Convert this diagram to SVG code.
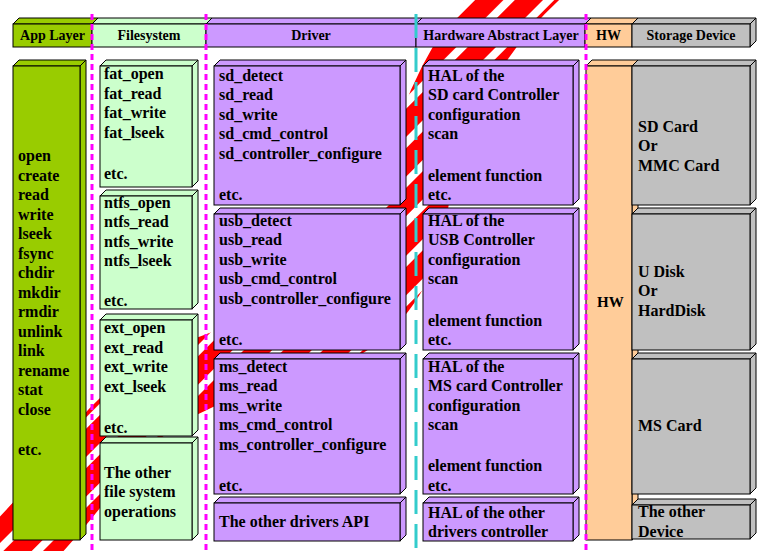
<svg xmlns="http://www.w3.org/2000/svg" width="770" height="551" viewBox="0 0 770 551">
<defs>
<pattern id="stripes" width="28" height="28" patternUnits="userSpaceOnUse" patternTransform="rotate(45)">
<rect width="28" height="28" fill="#ffffff"/>
<rect width="20" height="28" fill="#ff0000"/>
</pattern>
</defs>
<style>
.f{stroke:#000;stroke-width:1}
.ag{fill:#99cc00}.fs{fill:#ccffcc}.pu{fill:#cc99ff}.hw{fill:#ffcc99}.gr{fill:#c0c0c0}
text{font-family:"Liberation Serif","Times New Roman",serif;font-weight:bold;fill:#000}
.t{font-size:16px}
.h{font-size:14px;text-anchor:middle}
.mg{stroke:#ff00ff;stroke-width:3;stroke-dasharray:6 4;fill:none}
.cy{stroke:#33cccc;stroke-width:3;stroke-dasharray:24 10;fill:none}
</style>
<rect width="770" height="551" fill="#ffffff"/>
<g id="background-stripes">
<path d="M 540 -30 Q 440 60 414 200 Q 400 330 260 355 Q 150 380 92 460 Q 50 520 -10 575" fill="none" stroke="url(#stripes)" stroke-width="70"/>
</g>
<g id="headers">
<g id="h-app"><polygon class="f ag" points="13,24 19,18 98,18 92,24"/><rect class="f ag" x="13" y="24" width="79" height="23"/><text class="h" x="52.5" y="40">App Layer</text></g>
<g id="h-fs"><polygon class="f fs" points="92,24 98,18 212,18 206,24"/><rect class="f fs" x="92" y="24" width="114" height="23"/><text class="h" x="149" y="40">Filesystem</text></g>
<g id="h-drv"><polygon class="f pu" points="206,24 212,18 422,18 416,24"/><rect class="f pu" x="206" y="24" width="210" height="23"/><text class="h" x="311" y="40">Driver</text></g>
<g id="h-hal"><polygon class="f pu" points="416,24 422,18 591,18 585,24"/><rect class="f pu" x="416" y="24" width="169" height="23"/><text class="h" x="501" y="40">Hardware Abstract Layer</text></g>
<g id="h-hw"><polygon class="f hw" points="585,24 591,18 638,18 632,24"/><rect class="f hw" x="585" y="24" width="47" height="23"/><text class="h" x="608.5" y="40">HW</text></g>
<g id="h-sd"><polygon class="f gr" points="632,24 638,18 756,18 750,24"/><polygon class="f gr" points="750,24 756,18 756,41 750,47"/><rect class="f gr" x="632" y="24" width="118" height="23"/><text class="h" x="691" y="40">Storage Device</text></g>
</g>
<g id="app">
<polygon class="f ag" points="13,66 19,60 86,60 80,66"/><polygon class="f ag" points="80,66 86,60 86,534 80,540"/><rect class="f ag" x="13" y="66" width="67" height="474"/>
<text class="t"><tspan x="18" y="161">open</tspan><tspan x="18" y="180.5">create</tspan><tspan x="18" y="200">read</tspan><tspan x="18" y="219.5">write</tspan><tspan x="18" y="239">lseek</tspan><tspan x="18" y="258.5">fsync</tspan><tspan x="18" y="278">chdir</tspan><tspan x="18" y="297.5">mkdir</tspan><tspan x="18" y="317">rmdir</tspan><tspan x="18" y="336.5">unlink</tspan><tspan x="18" y="356">link</tspan><tspan x="18" y="375.5">rename</tspan><tspan x="18" y="395">stat</tspan><tspan x="18" y="414.5">close</tspan><tspan x="18" y="455">etc.</tspan></text>
</g>
<g id="fs-fat">
<polygon class="f fs" points="100,66 106,60 198,60 192,66"/><polygon class="f fs" points="192,66 198,60 198,181 192,187"/><rect class="f fs" x="100" y="66" width="92" height="121"/>
<text class="t"><tspan x="104" y="79">fat_open</tspan><tspan x="104" y="98.5">fat_read</tspan><tspan x="104" y="118">fat_write</tspan><tspan x="104" y="137.5">fat_lseek</tspan><tspan x="104" y="179">etc.</tspan></text>
</g>
<g id="fs-ntfs">
<polygon class="f fs" points="100,196 106,190 198,190 192,196"/><polygon class="f fs" points="192,196 198,190 198,303 192,309"/><rect class="f fs" x="100" y="196" width="92" height="113"/>
<text class="t"><tspan x="104" y="208">ntfs_open</tspan><tspan x="104" y="227">ntfs_read</tspan><tspan x="104" y="246.5">ntfs_write</tspan><tspan x="104" y="266">ntfs_lseek</tspan><tspan x="104" y="306">etc.</tspan></text>
</g>
<g id="fs-ext">
<polygon class="f fs" points="100,320 106,314 198,314 192,320"/><polygon class="f fs" points="192,320 198,314 198,430 192,436"/><rect class="f fs" x="100" y="320" width="92" height="116"/>
<text class="t"><tspan x="104" y="333">ext_open</tspan><tspan x="104" y="353">ext_read</tspan><tspan x="104" y="372">ext_write</tspan><tspan x="104" y="391.5">ext_lseek</tspan><tspan x="104" y="433">etc.</tspan></text>
</g>
<g id="fs-other">
<polygon class="f fs" points="100,443 106,437 198,437 192,443"/><polygon class="f fs" points="192,443 198,437 198,534 192,540"/><rect class="f fs" x="100" y="443" width="92" height="97"/>
<text class="t"><tspan x="104" y="477.5">The other</tspan><tspan x="104" y="497">file system</tspan><tspan x="104" y="516.5">operations</tspan></text>
</g>
<g id="drv-sd">
<polygon class="f pu" points="214,66 220,60 406,60 400,66"/><polygon class="f pu" points="400,66 406,60 406,199 400,205"/><rect class="f pu" x="214" y="66" width="186" height="139"/>
<text class="t"><tspan x="219" y="80.5">sd_detect</tspan><tspan x="219" y="100">sd_read</tspan><tspan x="219" y="119.5">sd_write</tspan><tspan x="219" y="139">sd_cmd_control</tspan><tspan x="219" y="158.5">sd_controller_configure</tspan><tspan x="219" y="199.5">etc.</tspan></text>
</g>
<g id="drv-usb">
<polygon class="f pu" points="214,214 220,208 406,208 400,214"/><polygon class="f pu" points="400,214 406,208 406,344 400,350"/><rect class="f pu" x="214" y="214" width="186" height="136"/>
<text class="t"><tspan x="219" y="225.5">usb_detect</tspan><tspan x="219" y="245">usb_read</tspan><tspan x="219" y="264.5">usb_write</tspan><tspan x="219" y="284">usb_cmd_control</tspan><tspan x="219" y="303.5">usb_controller_configure</tspan><tspan x="219" y="344.5">etc.</tspan></text>
</g>
<g id="drv-ms">
<polygon class="f pu" points="214,359 220,353 406,353 400,359"/><polygon class="f pu" points="400,359 406,353 406,488 400,494"/><rect class="f pu" x="214" y="359" width="186" height="135"/>
<text class="t"><tspan x="219" y="371.5">ms_detect</tspan><tspan x="219" y="391">ms_read</tspan><tspan x="219" y="410.5">ms_write</tspan><tspan x="219" y="430">ms_cmd_control</tspan><tspan x="219" y="449.5">ms_controller_configure</tspan><tspan x="219" y="490.5">etc.</tspan></text>
</g>
<g id="drv-other">
<polygon class="f pu" points="214,503 220,497 406,497 400,503"/><polygon class="f pu" points="400,503 406,497 406,535 400,541"/><rect class="f pu" x="214" y="503" width="186" height="38"/>
<text class="t" x="219" y="527">The other drivers API</text>
</g>
<g id="hal-sd">
<polygon class="f pu" points="423,66 429,60 579,60 573,66"/><polygon class="f pu" points="573,66 579,60 579,199 573,205"/><rect class="f pu" x="423" y="66" width="150" height="139"/>
<text class="t"><tspan x="428" y="80.5">HAL of the</tspan><tspan x="428" y="100">SD card Controller</tspan><tspan x="428" y="119.5">configuration</tspan><tspan x="428" y="139">scan</tspan><tspan x="428" y="180.5">element function</tspan><tspan x="428" y="199.5">etc.</tspan></text>
</g>
<g id="hal-usb">
<polygon class="f pu" points="423,214 429,208 579,208 573,214"/><polygon class="f pu" points="573,214 579,208 579,344 573,350"/><rect class="f pu" x="423" y="214" width="150" height="136"/>
<text class="t"><tspan x="428" y="225.5">HAL of the</tspan><tspan x="428" y="245">USB Controller</tspan><tspan x="428" y="264.5">configuration</tspan><tspan x="428" y="284">scan</tspan><tspan x="428" y="325.5">element function</tspan><tspan x="428" y="344.5">etc.</tspan></text>
</g>
<g id="hal-ms">
<polygon class="f pu" points="423,359 429,353 579,353 573,359"/><polygon class="f pu" points="573,359 579,353 579,488 573,494"/><rect class="f pu" x="423" y="359" width="150" height="135"/>
<text class="t"><tspan x="428" y="371.5">HAL of the</tspan><tspan x="428" y="391">MS card Controller</tspan><tspan x="428" y="410.5">configuration</tspan><tspan x="428" y="430">scan</tspan><tspan x="428" y="470.5">element function</tspan><tspan x="428" y="490.5">etc.</tspan></text>
</g>
<g id="hal-other">
<polygon class="f pu" points="423,503 429,497 579,497 573,503"/><polygon class="f pu" points="573,503 579,497 579,535 573,541"/><rect class="f pu" x="423" y="503" width="150" height="38"/>
<text class="t"><tspan x="428" y="517.5">HAL of the other</tspan><tspan x="428" y="537">drivers controller</tspan></text>
</g>
<g id="hw">
<polygon class="f hw" points="586,66 592,60 638,60 632,66"/><polygon class="f hw" points="632,66 638,60 638,534 632,540"/><rect class="f hw" x="586" y="66" width="46" height="474"/>
<text class="t" x="597" y="307" style="font-size:15px">HW</text>
</g>
<g id="st-sd">
<polygon class="f gr" points="632,66 638,60 756,60 750,66"/><polygon class="f gr" points="750,66 756,60 756,199 750,205"/><rect class="f gr" x="632" y="66" width="118" height="139"/>
<text class="t"><tspan x="638" y="131.5">SD Card</tspan><tspan x="638" y="151">Or</tspan><tspan x="638" y="170.5">MMC Card</tspan></text>
</g>
<g id="st-usb">
<polygon class="f gr" points="632,214 638,208 756,208 750,214"/><polygon class="f gr" points="750,214 756,208 756,344 750,350"/><rect class="f gr" x="632" y="214" width="118" height="136"/>
<text class="t"><tspan x="638" y="276.5">U Disk</tspan><tspan x="638" y="296">Or</tspan><tspan x="638" y="315.5">HardDisk</tspan></text>
</g>
<g id="st-ms">
<polygon class="f gr" points="632,359 638,353 756,353 750,359"/><polygon class="f gr" points="750,359 756,353 756,488 750,494"/><rect class="f gr" x="632" y="359" width="118" height="135"/>
<text class="t" x="638" y="430.5">MS Card</text>
</g>
<g id="st-other">
<polygon class="f gr" points="632,505 638,499 756,499 750,505"/><polygon class="f gr" points="750,505 756,499 756,533 750,539"/><rect class="f gr" x="632" y="505" width="118" height="34"/>
<text class="t"><tspan x="638" y="517">The other</tspan><tspan x="638" y="536.5">Device</tspan></text>
</g>
<g id="connectors">
<line class="mg" x1="92" y1="14" x2="92" y2="551"/>
<line class="mg" x1="206" y1="14" x2="206" y2="551"/>
<line class="mg" x1="586" y1="14" x2="586" y2="551"/>
<line class="cy" x1="416" y1="14" x2="416" y2="551"/>
</g>
</svg>
